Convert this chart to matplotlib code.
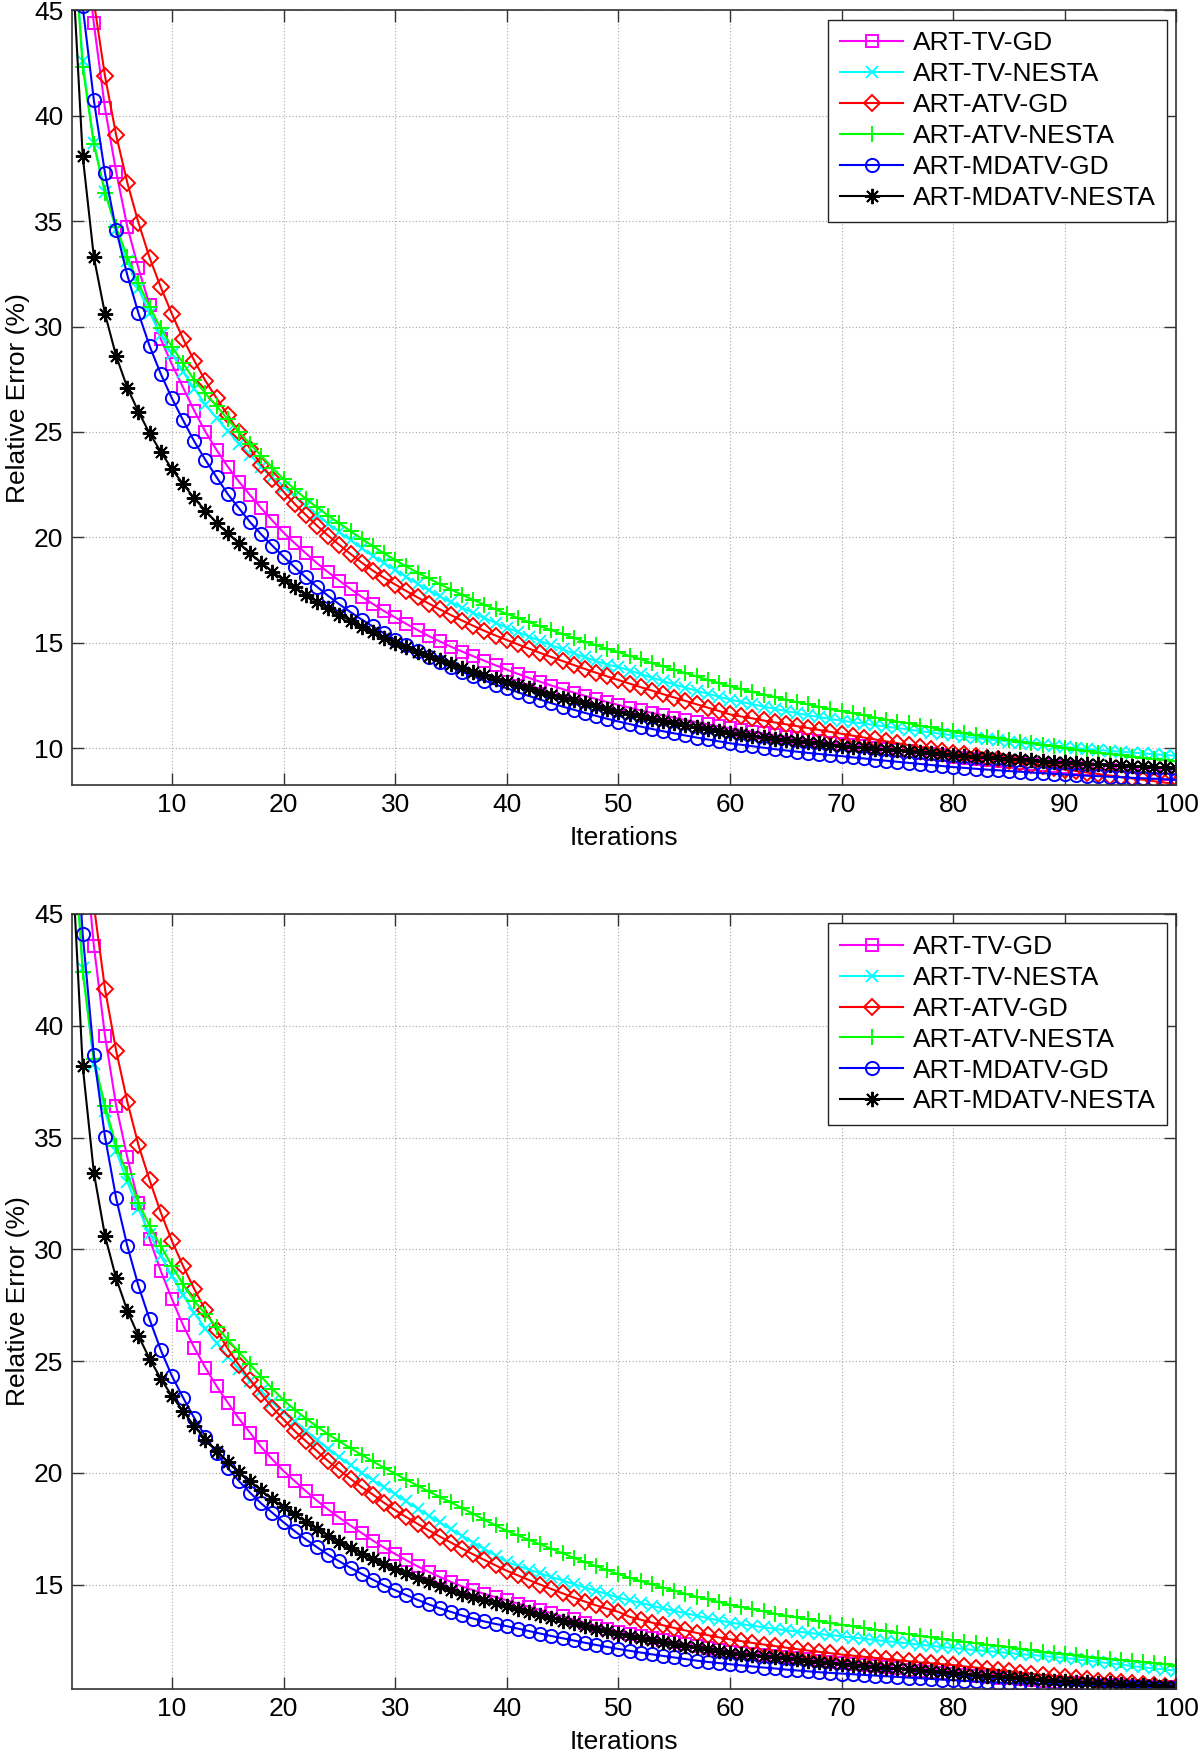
import numpy as np
import matplotlib
matplotlib.use("Agg")
import matplotlib.pyplot as plt

iterations = np.arange(1, 101)
series_labels = ["ART-TV-GD", "ART-TV-NESTA", "ART-ATV-GD", "ART-ATV-NESTA",
                 "ART-MDATV-GD", "ART-MDATV-NESTA"]
x_ticks = [10, 20, 30, 40, 50, 60, 70, 80, 90, 100]
top_y_ticks = [10, 15, 20, 25, 30, 35, 40, 45]
bottom_y_ticks = [15, 20, 25, 30, 35, 40, 45]

# ---------------- top panel ----------------
top_tv_gd = [55.0, 49.0, 44.38, 40.35, 37.34, 34.73, 32.76, 31.02, 29.4, 28.2,
             27.1, 26.0, 25.01, 24.14, 23.35, 22.64, 22.0, 21.38, 20.79, 20.22,
             19.72, 19.24, 18.77, 18.34, 17.94, 17.55, 17.18, 16.84, 16.5, 16.2,
             15.89, 15.60, 15.32, 15.06, 14.81, 14.58, 14.36, 14.14, 13.93, 13.72,
             13.52, 13.33, 13.145, 12.97, 12.80, 12.635, 12.48, 12.33, 12.185, 12.05,
             11.92, 11.79, 11.67, 11.55, 11.44, 11.33, 11.23, 11.13, 11.03, 10.94,
             10.86, 10.78, 10.70, 10.62, 10.55, 10.47, 10.40, 10.33, 10.26, 10.20,
             10.14, 10.08, 10.02, 9.96, 9.9, 9.84, 9.78, 9.72, 9.66, 9.60,
             9.55, 9.5, 9.45, 9.4, 9.35, 9.3, 9.25, 9.2, 9.15, 9.1,
             9.06, 9.02, 8.98, 8.94, 8.91, 8.87, 8.84, 8.81, 8.78, 8.75]
top_tv_nesta = [50.0, 42.6, 38.7, 36.4, 34.6, 33.1, 31.8, 30.65, 29.6, 28.7,
                27.85, 27.05, 26.3, 25.65, 25.05, 24.45, 23.9, 23.35, 22.85, 22.4,
                21.94, 21.5, 21.06, 20.65, 20.25, 19.86, 19.48, 19.12, 18.78, 18.45,
                18.12, 17.8, 17.49, 17.2, 16.92, 16.66, 16.41, 16.17, 15.94, 15.72,
                15.5, 15.29, 15.08, 14.88, 14.68, 14.49, 14.31, 14.13, 13.96, 13.85,
                13.68, 13.51, 13.34, 13.18, 13.02, 12.87, 12.72, 12.58, 12.44, 12.3,
                12.19, 12.08, 11.97, 11.86, 11.76, 11.66, 11.56, 11.47, 11.38, 11.3,
                11.23, 11.16, 11.09, 11.02, 10.95, 10.88, 10.81, 10.74, 10.67, 10.6,
                10.54, 10.48, 10.42, 10.37, 10.31, 10.25, 10.2, 10.15, 10.1, 10.05,
                10.0, 9.96, 9.91, 9.87, 9.83, 9.79, 9.75, 9.71, 9.67, 9.63]
top_atv_gd = [57.0, 50.0, 45.4, 41.88, 39.08, 36.82, 34.92, 33.26, 31.86, 30.59,
              29.41, 28.38, 27.42, 26.6, 25.8, 24.98, 24.2, 23.45, 22.78, 22.16,
              21.58, 21.06, 20.55, 20.08, 19.64, 19.21, 18.8, 18.42, 18.08, 17.76,
              17.45, 17.15, 16.86, 16.58, 16.31, 16.05, 15.8, 15.56, 15.34, 15.13,
              14.92, 14.715, 14.515, 14.32, 14.13, 13.94, 13.755, 13.575, 13.4, 13.23,
              13.06, 12.89, 12.73, 12.56, 12.40, 12.24, 12.08, 11.92, 11.76, 11.6,
              11.5, 11.41, 11.31, 11.22, 11.13, 11.04, 10.95, 10.86, 10.77, 10.68,
              10.59, 10.5, 10.41, 10.32, 10.23, 10.14, 10.05, 9.96, 9.87, 9.78,
              9.7, 9.62, 9.54, 9.46, 9.38, 9.3, 9.22, 9.14, 9.06, 8.98,
              8.91, 8.84, 8.77, 8.7, 8.63, 8.56, 8.5, 8.43, 8.36, 8.28]
top_atv_nesta = [50.0, 42.32, 38.66, 36.35, 34.7, 33.31, 32.05, 30.94, 29.91, 29.04,
                 28.25, 27.46, 26.83, 26.23, 25.6, 25.0, 24.43, 23.87, 23.3, 22.75,
                 22.27, 21.82, 21.42, 21.03, 20.66, 20.29, 19.93, 19.58, 19.24, 18.92,
                 18.62, 18.33, 18.05, 17.78, 17.52, 17.27, 17.03, 16.80, 16.58, 16.37,
                 16.17, 15.97, 15.78, 15.59, 15.41, 15.23, 15.05, 14.88, 14.71, 14.55,
                 14.38, 14.21, 14.04, 13.88, 13.72, 13.56, 13.4, 13.24, 13.08, 12.93,
                 12.8, 12.67, 12.54, 12.42, 12.3, 12.18, 12.07, 11.96, 11.85, 11.75,
                 11.65, 11.55, 11.45, 11.35, 11.26, 11.17, 11.07, 10.98, 10.88, 10.79,
                 10.71, 10.63, 10.55, 10.47, 10.39, 10.31, 10.23, 10.15, 10.08, 10.0,
                 9.93, 9.86, 9.79, 9.72, 9.66, 9.6, 9.54, 9.48, 9.42, 9.37]
top_mdatv_gd = [52.0, 45.2, 40.74, 37.27, 34.58, 32.44, 30.63, 29.07, 27.75, 26.59,
                25.55, 24.55, 23.67, 22.85, 22.05, 21.38, 20.72, 20.14, 19.6, 19.08,
                18.58, 18.1, 17.65, 17.22, 16.82, 16.45, 16.1, 15.77, 15.45, 15.15,
                14.87, 14.60, 14.34, 14.09, 13.85, 13.62, 13.40, 13.20, 13.01, 12.84,
                12.65, 12.47, 12.30, 12.13, 11.97, 11.82, 11.67, 11.53, 11.39, 11.26,
                11.14, 11.02, 10.91, 10.80, 10.70, 10.60, 10.50, 10.41, 10.32, 10.23,
                10.16, 10.09, 10.02, 9.95, 9.89, 9.83, 9.77, 9.72, 9.67, 9.62,
                9.56, 9.51, 9.45, 9.40, 9.35, 9.30, 9.25, 9.20, 9.15, 9.10,
                9.06, 9.02, 8.98, 8.95, 8.91, 8.88, 8.84, 8.81, 8.78, 8.75,
                8.72, 8.69, 8.67, 8.64, 8.62, 8.59, 8.57, 8.55, 8.52, 8.50]
top_mdatv_nesta = [48.0, 38.1, 33.3, 30.6, 28.6, 27.1, 25.95, 24.93, 24.06, 23.23,
                   22.53, 21.85, 21.26, 20.69, 20.19, 19.72, 19.24, 18.8, 18.37, 17.97,
                   17.63, 17.26, 16.95, 16.63, 16.31, 16.04, 15.76, 15.49, 15.24, 15.0,
                   14.78, 14.57, 14.36, 14.16, 13.97, 13.79, 13.62, 13.46, 13.3, 13.15,
                   12.99, 12.835, 12.685, 12.54, 12.40, 12.26, 12.12, 11.99, 11.86, 11.73,
                   11.61, 11.50, 11.39, 11.28, 11.18, 11.08, 10.98, 10.89, 10.80, 10.72,
                   10.65, 10.58, 10.51, 10.45, 10.39, 10.33, 10.27, 10.22, 10.17, 10.12,
                   10.07, 10.03, 9.98, 9.94, 9.89, 9.85, 9.81, 9.76, 9.72, 9.68,
                   9.64, 9.60, 9.57, 9.53, 9.49, 9.46, 9.42, 9.39, 9.35, 9.32,
                   9.29, 9.26, 9.23, 9.21, 9.18, 9.15, 9.13, 9.10, 9.08, 9.05]

# ---------------- bottom panel ----------------
bot_tv_gd = [55.0, 49.0, 43.58, 39.55, 36.42, 34.11, 32.09, 30.45, 29.03, 27.77,
             26.6, 25.6, 24.7, 23.88, 23.14, 22.42, 21.79, 21.15, 20.6, 20.08,
             19.63, 19.18, 18.75, 18.36, 17.99, 17.64, 17.31, 16.97, 16.66, 16.37,
             16.09, 15.82, 15.57, 15.34, 15.12, 14.92, 14.75, 14.58, 14.44, 14.3,
             14.15, 14.0, 13.86, 13.72, 13.58, 13.44, 13.3, 13.16, 13.03, 12.9,
             12.8, 12.7, 12.61, 12.52, 12.43, 12.34, 12.25, 12.17, 12.08, 12.0,
             11.95, 11.9, 11.85, 11.8, 11.75, 11.7, 11.65, 11.6, 11.55, 11.5,
             11.45, 11.4, 11.35, 11.3, 11.25, 11.2, 11.15, 11.11, 11.06, 11.02,
             10.97, 10.93, 10.88, 10.84, 10.8, 10.76, 10.72, 10.68, 10.64, 10.6,
             10.58, 10.55, 10.53, 10.51, 10.49, 10.47, 10.45, 10.43, 10.42, 10.4]
bot_tv_nesta = [50.0, 42.6, 38.3, 36.2, 34.4, 33.0, 31.8, 30.7, 29.7, 28.8,
                27.95, 27.15, 26.45, 25.8, 25.2, 24.65, 24.13, 23.65, 23.18, 22.73,
                22.3, 21.88, 21.47, 21.08, 20.7, 20.34, 20.0, 19.67, 19.35, 19.05,
                18.72, 18.4, 18.09, 17.78, 17.48, 17.18, 16.88, 16.59, 16.3, 16.01,
                15.84, 15.67, 15.5, 15.34, 15.18, 15.02, 14.87, 14.72, 14.57, 14.42,
                14.3, 14.18, 14.06, 13.94, 13.83, 13.72, 13.61, 13.5, 13.4, 13.3,
                13.23, 13.16, 13.09, 13.02, 12.96, 12.9, 12.84, 12.79, 12.74, 12.69,
                12.63, 12.58, 12.52, 12.47, 12.42, 12.37, 12.31, 12.26, 12.21, 12.16,
                12.12, 12.07, 12.03, 11.98, 11.94, 11.89, 11.85, 11.81, 11.76, 11.72,
                11.66, 11.6, 11.54, 11.48, 11.42, 11.36, 11.3, 11.25, 11.2, 11.15]
bot_atv_gd = [57.0, 50.0, 45.4, 41.64, 38.88, 36.6, 34.66, 33.09, 31.64, 30.37,
              29.25, 28.22, 27.28, 26.38, 25.55, 24.82, 24.16, 23.52, 22.92, 22.39,
              21.87, 21.42, 20.97, 20.52, 20.12, 19.73, 19.36, 19.03, 18.66, 18.33,
              18.02, 17.72, 17.43, 17.15, 16.88, 16.61, 16.35, 16.1, 15.86, 15.62,
              15.41, 15.2, 15.0, 14.8, 14.61, 14.42, 14.24, 14.07, 13.92, 13.78,
              13.56, 13.43, 13.3, 13.18, 13.06, 12.95, 12.84, 12.74, 12.64, 12.55,
              12.47, 12.39, 12.32, 12.25, 12.18, 12.11, 12.05, 11.99, 11.93, 11.87,
              11.82, 11.77, 11.72, 11.67, 11.62, 11.57, 11.52, 11.48, 11.44, 11.4,
              11.34, 11.29, 11.23, 11.17, 11.12, 11.06, 11.01, 10.96, 10.9, 10.85,
              10.8, 10.76, 10.71, 10.67, 10.63, 10.59, 10.55, 10.51, 10.47, 10.43]
bot_atv_nesta = [50.0, 42.42, 38.5, 36.42, 34.63, 33.36, 32.09, 31.04, 30.15, 29.25,
                 28.43, 27.69, 27.1, 26.52, 25.96, 25.4, 24.85, 24.3, 23.76, 23.25,
                 22.82, 22.43, 22.07, 21.73, 21.41, 21.1, 20.8, 20.51, 20.23, 19.96,
                 19.69, 19.43, 19.17, 18.92, 18.68, 18.42, 18.16, 17.9, 17.65, 17.4,
                 17.2, 17.0, 16.8, 16.6, 16.4, 16.2, 16.01, 15.83, 15.65, 15.47,
                 15.31, 15.16, 15.01, 14.87, 14.73, 14.59, 14.46, 14.34, 14.22, 14.1,
                 14.0, 13.9, 13.8, 13.7, 13.61, 13.53, 13.44, 13.36, 13.28, 13.2,
                 13.13, 13.06, 12.99, 12.92, 12.85, 12.78, 12.71, 12.64, 12.57, 12.5,
                 12.44, 12.38, 12.32, 12.26, 12.19, 12.13, 12.07, 12.0, 11.94, 11.88,
                 11.83, 11.78, 11.73, 11.68, 11.63, 11.58, 11.53, 11.48, 11.43, 11.38]
bot_mdatv_gd = [52.0, 44.1, 38.69, 35.03, 32.28, 30.15, 28.36, 26.86, 25.49, 24.33,
                23.36, 22.45, 21.62, 20.88, 20.22, 19.63, 19.11, 18.63, 18.21, 17.79,
                17.39, 17.02, 16.67, 16.34, 16.04, 15.75, 15.48, 15.22, 14.97, 14.75,
                14.53, 14.32, 14.12, 13.94, 13.78, 13.62, 13.48, 13.35, 13.24, 13.14,
                13.03, 12.92, 12.81, 12.7, 12.6, 12.5, 12.4, 12.3, 12.21, 12.12,
                12.04, 11.96, 11.88, 11.81, 11.74, 11.67, 11.6, 11.54, 11.49, 11.44,
                11.39, 11.34, 11.29, 11.25, 11.2, 11.16, 11.12, 11.08, 11.05, 11.02,
                10.99, 10.96, 10.93, 10.9, 10.87, 10.84, 10.81, 10.78, 10.75, 10.72,
                10.7, 10.67, 10.65, 10.62, 10.6, 10.58, 10.56, 10.54, 10.52, 10.5,
                10.48, 10.47, 10.45, 10.44, 10.42, 10.41, 10.4, 10.39, 10.37, 10.36]
bot_mdatv_nesta = [48.0, 38.21, 33.43, 30.6, 28.7, 27.26, 26.12, 25.1, 24.21, 23.43,
                   22.76, 22.09, 21.49, 20.97, 20.48, 20.03, 19.63, 19.21, 18.81, 18.46,
                   18.14, 17.81, 17.49, 17.19, 16.89, 16.64, 16.39, 16.15, 15.9, 15.7,
                   15.5, 15.3, 15.11, 14.93, 14.76, 14.6, 14.45, 14.3, 14.16, 14.03,
                   13.9, 13.77, 13.64, 13.51, 13.39, 13.27, 13.15, 13.03, 12.91, 12.8,
                   12.71, 12.62, 12.53, 12.44, 12.35, 12.27, 12.19, 12.11, 12.03, 11.95,
                   11.9, 11.85, 11.8, 11.75, 11.7, 11.65, 11.6, 11.55, 11.5, 11.45,
                   11.41, 11.37, 11.33, 11.29, 11.25, 11.21, 11.17, 11.13, 11.09, 11.05,
                   11.01, 10.97, 10.93, 10.89, 10.85, 10.82, 10.78, 10.75, 10.71, 10.68,
                   10.65, 10.63, 10.6, 10.58, 10.55, 10.53, 10.51, 10.49, 10.47, 10.45]

top_series = [top_tv_gd, top_tv_nesta, top_atv_gd, top_atv_nesta, top_mdatv_gd, top_mdatv_nesta]
bot_series = [bot_tv_gd, bot_tv_nesta, bot_atv_gd, bot_atv_nesta, bot_mdatv_gd, bot_mdatv_nesta]

colors = ["#ff00ff", "#00ffff", "#ff0000", "#00ff00", "#0000ff", "#000000"]
markers = ["s", "x", "D", "+", "o", (8, 2, 0)]
msizes = [9.0, 8.5, 8.5, 12.0, 9.5, 11.0]

plt.rcParams["font.family"] = ["Liberation Sans", "DejaVu Sans"]
FS = 19

fig = plt.figure(figsize=(12, 17.53), dpi=100)
ax1 = fig.add_axes([0.0596, 0.5522, 0.9208, 0.4419])
ax2 = fig.add_axes([0.0596, 0.03651, 0.9208, 0.4421])


def draw(ax, data, ylo, yticks):
    for vals, lab, c, m, ms in zip(data, series_labels, colors, markers, msizes):
        ax.plot(iterations, vals, color=c, marker=m, markersize=ms,
                markerfacecolor="none", markeredgecolor=c, markeredgewidth=1.4,
                linewidth=1.5, label=lab)
    ax.set_xlim(1, 100)
    ax.set_ylim(ylo, 45)
    ax.set_xticks(x_ticks)
    ax.set_yticks(yticks)
    ax.grid(True, linestyle=(0, (1, 2)), color="#a8a8a8", linewidth=0.8)
    ax.tick_params(direction="in", length=8.5, width=1.0, top=True, right=True,
                   labelsize=FS, pad=6, color="#333333")
    for sp in ax.spines.values():
        sp.set_color("#333333")
        sp.set_linewidth(1.2)
    ax.set_xlabel("Iterations", fontsize=FS, labelpad=6)
    ax.set_ylabel("Relative Error (%)", fontsize=FS, labelpad=3)
    leg = ax.legend(loc="upper right", fontsize=FS, numpoints=1, fancybox=False,
                    framealpha=1, edgecolor="#222222", handlelength=2.4,
                    handletextpad=0.35, labelspacing=0.26, borderpad=0.45,
                    borderaxespad=0.35)
    leg.get_frame().set_linewidth(1.0)


draw(ax1, top_series, 8.25, top_y_ticks)
draw(ax2, bot_series, 10.33, bottom_y_ticks)

fig.savefig("out.png", dpi=100)
